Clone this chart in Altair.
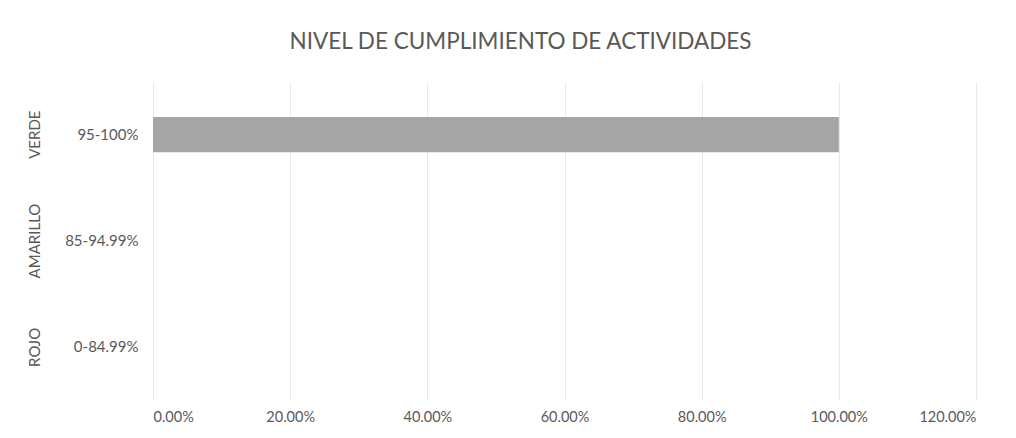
import altair as alt
import pandas as pd

categories = ["95-100%", "85-94.99%", "0-84.99%"]
groups = ["VERDE", "AMARILLO", "ROJO"]
values = [1.0, 0.0, 0.0]
x_ticks = [0, 0.2, 0.4, 0.6, 0.8, 1.0, 1.2]

df = pd.DataFrame({"rango": categories, "grupo": groups, "valor": values})

y_enc = alt.Y("rango:N", sort=categories,
              scale=alt.Scale(paddingInner=0.67, paddingOuter=0.33),
              axis=alt.Axis(title=None, ticks=False, domain=False, labelPadding=15,
                            labelFontSize=15, labelColor="#595959", labelFont="Lato"))

bars = alt.Chart(df).mark_bar(color="#a5a5a5").encode(
    x=alt.X("valor:Q", scale=alt.Scale(domain=[0, 1.2], nice=False),
            axis=alt.Axis(title=None, values=x_ticks, format=".2%", ticks=False, domain=False,
                          grid=True, gridColor="#e9e9e9", labelPadding=10,
                          labelFontSize=14.5, labelColor="#595959", labelFont="Lato")),
    y=y_enc,
)

group_text = alt.Chart(df).mark_text(angle=270, fontSize=15, color="#595959", font="Lato",
                                     align="center", baseline="middle").encode(
    x=alt.value(-118),
    y=alt.Y("rango:N", sort=categories),
    text="grupo:N",
)

chart = alt.layer(bars, group_text).properties(
    width=823, height=318,
    background="white",
    title=alt.TitleParams("NIVEL DE CUMPLIMIENTO DE ACTIVIDADES", fontSize=22.5, font="Lato",
                          fontWeight="normal", color="#595959", offset=29, dx=-44),
    autosize=alt.AutoSizeParams(type="none"),
    padding={"left": 145, "top": 74, "right": 30, "bottom": 30},
).configure_view(stroke=None)

chart.save("out.html", embed_options={"renderer": "svg", "actions": False})
